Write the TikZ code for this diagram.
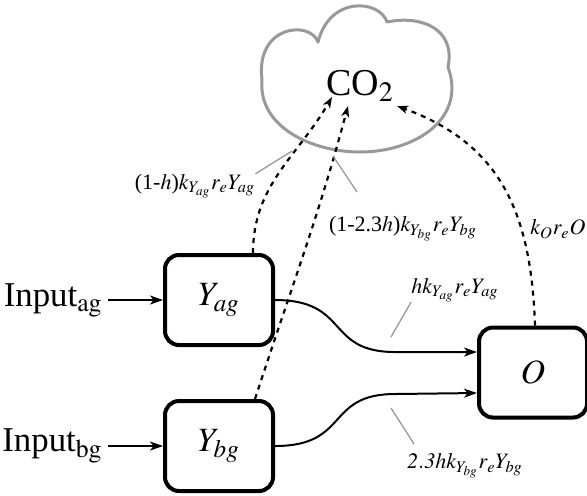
\documentclass[tikz,border=0pt]{standalone}
\usepackage{mathptmx}
\usepackage{fontspec}
\setmainfont{Liberation Serif}
\usetikzlibrary{arrows.meta}

\begin{document}
\begin{tikzpicture}
		[x=0.5pt,y=-0.5pt,
		box/.style={draw,line width=2pt,rounded corners=7pt,minimum width=54pt,minimum height=45pt,inner sep=0pt,font=\fontsize{17}{20}\selectfont},
		inp/.style={anchor=east,inner sep=2.5pt,font=\fontsize{17.4}{20}\selectfont},
		lbl/.style={inner sep=0pt,font=\fontsize{11}{13}\selectfont},
		flow/.style={line width=1pt,-{Stealth[length=6.5pt,width=4.5pt,inset=1.8pt]}},
		emit/.style={line width=1.1pt,dash pattern=on 2.5pt off 2.5pt,-{Stealth[length=5.5pt,width=4pt,inset=1.5pt]}},
		pinline/.style={gray!85,line width=0.6pt}]
		\useasboundingbox (0,0) rectangle (587,495);
		\draw[gray!80,line width=1.5pt,line cap=round,line join=round] (262,80) to[out=265,in=180] (360,152) to[out=0,in=290,looseness=1.15] (448,67)
			.. controls (456,28) and (420,15) .. (387,22) .. controls (380,0) and (330,-5) .. (318,42)
			.. controls (310,20) and (255,25) .. (262,80) -- cycle;
		\node[box] (yag) at (219,300) {$Y_{ag}$};
		\node[box] (ybg) at (219,446) {$Y_{bg}$};
		\node[box] (o) at (533,372.5) {$O$};
		\node[font=\fontsize{19}{22}\selectfont] (co2) at (360,86) {CO$_2$};
		\node[inp] (inag) at (108,300) {Input$_{\mathrm{ag}}$};
		\node[inp] (inbg) at (108,446) {Input$_{\mathrm{bg}}$};
		
		\node[lbl] (l1) at (195,186) {(1-$h$)$k_{Y_{ag}}r_eY_{ag}$};
		\node[lbl] (l2) at (403,229) {(1-2.3$h$)$k_{Y_{bg}}r_eY_{bg}$};
		\node[lbl] (l3) at (558,229) {$k_Or_eO$};
		\node[lbl] (l4) at (455,290) {$hk_{Y_{ag}}r_eY_{ag}$};
		\node[lbl] (l5) at (465,466) {$\mathit{2.3}hk_{Y_{bg}}r_eY_{bg}$};
		
		\coordinate (t1) at (292,151);
		\coordinate (t2a) at (333,156);
		\coordinate (t2b) at (357,192);
		\coordinate (t4) at (391,337);
		\coordinate (t5a) at (391,408);
		\coordinate (t5b) at (414,444);
		
		\foreach \from/\to in {inag/yag,inbg/ybg}
		\draw[flow] (\from) -- (\to);
		\draw[flow] (yag.east) .. controls (350,300) and (325,352) .. (395,352) -- ([yshift=10.25pt]o.west);
		\draw[flow] (ybg.east) .. controls (350,446) and (325,394) .. (395,394) -- ([yshift=-10.25pt]o.west);
		
		\draw[emit] ([xshift=17pt]yag.north) to[out=90,in=240] ([xshift=-14pt,yshift=-5.5pt]co2.center);
		\draw[emit] ([xshift=18pt]ybg.north) to[out=72,in=255] ([xshift=-6pt,yshift=-10pt]co2.center);
		\draw[emit] ([xshift=1pt]o.north) to[out=92,in=340,looseness=1.1] ([xshift=18.5pt,yshift=-10pt]co2.center);
		
		\draw[pinline] (l1.north east) -- (t1);
		\draw[pinline] (t2a) -- (t2b);
		\draw[pinline] (l4.south west) -- (t4);
		\draw[pinline] (t5a) -- (t5b);
\end{tikzpicture}
\end{document}
